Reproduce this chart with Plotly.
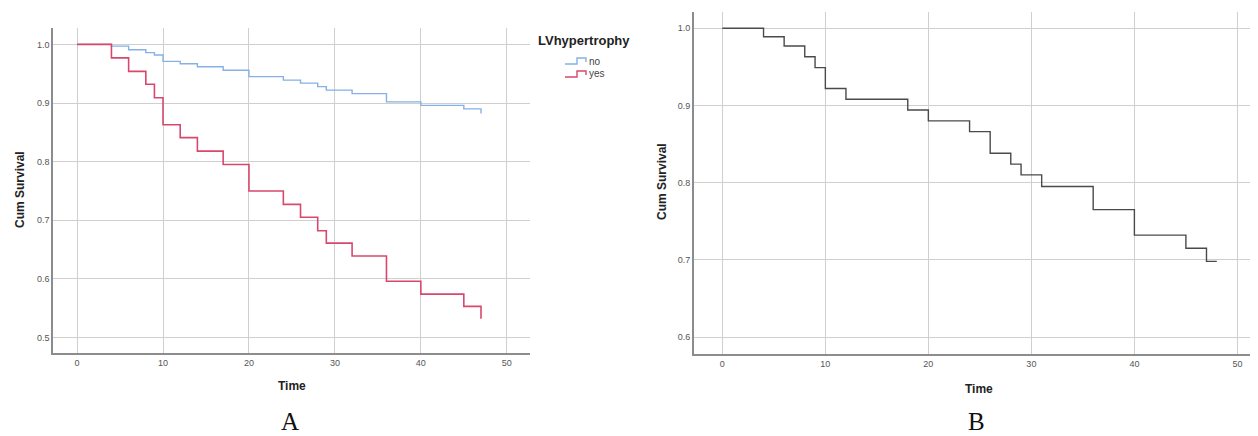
import plotly.graph_objects as go

# page has an 8px body margin; figure is sized so it fits the 1258x436 window
OFF = 8
W, H = 1258 - OFF, 436 - OFF

# Panel A data (Kaplan-Meier, LV hypertrophy)
time_no = [0, 4, 6, 8, 9, 10, 12, 14, 17, 20, 24, 26, 28, 29, 32, 36, 40, 45, 47]
surv_no = [1.0, 0.997, 0.991, 0.986, 0.982, 0.971, 0.967, 0.962, 0.956, 0.945, 0.939, 0.934,
           0.928, 0.922, 0.916, 0.902, 0.896, 0.890, 0.882]
time_yes = [0, 4, 6, 8, 9, 10, 12, 14, 17, 20, 24, 26, 28, 29, 32, 36, 40, 45, 47]
surv_yes = [1.0, 0.977, 0.954, 0.932, 0.909, 0.863, 0.841, 0.818, 0.795, 0.750, 0.727, 0.705,
            0.682, 0.661, 0.639, 0.596, 0.574, 0.553, 0.532]

# Panel B data (overall)
time_all = [0, 4, 6, 8, 9, 10, 12, 18, 20, 24, 26, 28, 29, 31, 36, 40, 45, 47, 48]
surv_all = [1.0, 0.989, 0.977, 0.963, 0.949, 0.922, 0.908, 0.894, 0.880, 0.866, 0.838, 0.824,
            0.810, 0.795, 0.765, 0.732, 0.715, 0.698, 0.698]

x_ticks = [0, 10, 20, 30, 40, 50]
yA_ticks = [0.5, 0.6, 0.7, 0.8, 0.9, 1.0]
yB_ticks = [0.6, 0.7, 0.8, 0.9, 1.0]

BLUE = "#86b0e6"
RED = "#d8486c"
DARK = "#4a4a4a"
GRID = "#cfcfcf"
AXIS = "#8c8c8c"
TICK = "#555555"

fig = go.Figure()
fig.add_trace(go.Scatter(x=time_no, y=surv_no, mode="lines", line=dict(shape="hv", color=BLUE, width=1.4),
                         xaxis="x", yaxis="y", showlegend=False))
fig.add_trace(go.Scatter(x=time_yes, y=surv_yes, mode="lines", line=dict(shape="hv", color=RED, width=1.6),
                         xaxis="x", yaxis="y", showlegend=False))
fig.add_trace(go.Scatter(x=time_all, y=surv_all, mode="lines", line=dict(shape="hv", color=DARK, width=1.4),
                         xaxis="x2", yaxis="y2", showlegend=False))

def px_x(p):
    return (p - OFF) / W

def px_y(p):
    return 1 - (p - OFF) / H

axis_common = dict(showgrid=True, gridcolor=GRID, gridwidth=1.3, zeroline=False, showline=True,
                   linecolor=AXIS, linewidth=1.5, ticks="", tickfont=dict(family="Liberation Sans", size=9, color=TICK),
                   fixedrange=True)

fig.update_layout(
    width=W, height=H, margin=dict(l=0, r=0, t=0, b=0),
    paper_bgcolor="white", plot_bgcolor="white",
    xaxis=dict(domain=[px_x(53), px_x(530)], range=[-2.8, 52.7], tickvals=x_ticks, anchor="y",
               **axis_common),
    yaxis=dict(domain=[px_y(353.3), px_y(28)], range=[0.473, 1.028], tickvals=yA_ticks,
               tickformat=".1f", anchor="x", **axis_common),
    xaxis2=dict(domain=[px_x(693.7), 1.0], range=[-2.78, 52.0], tickvals=x_ticks, anchor="y2",
                **axis_common),
    yaxis2=dict(domain=[px_y(354.3), px_y(12)], range=[0.5776, 1.021], tickvals=yB_ticks,
                tickformat=".1f", anchor="x2", **axis_common),
)

ann = []
def text(x, y, s, size, bold=False, family="Liberation Sans", color="#222", angle=0, xanchor="center"):
    ann.append(dict(x=px_x(x), y=px_y(y), xref="paper", yref="paper", text=f"<b>{s}</b>" if bold else s,
                    showarrow=False, font=dict(family=family, size=size, color=color), textangle=angle,
                    xanchor=xanchor, yanchor="middle"))

text(20, 190, "Cum Survival", 12, bold=True, angle=-90)
text(292, 386, "Time", 12, bold=True)
text(290, 421, "A", 25, family="Liberation Serif", color="#111")
text(662, 182, "Cum Survival", 12, bold=True, angle=-90)
text(979, 389, "Time", 12, bold=True)
text(976, 421, "B", 25, family="Liberation Serif", color="#111")
text(536, 40, "LVhypertrophy", 13, bold=True, xanchor="left")
text(587, 61, "no", 10, color="#444", xanchor="left")
text(587, 74, "yes", 10, color="#444", xanchor="left")

shapes = []
for yc, col in [(61, BLUE), (74, RED)]:
    pts = [(565, yc + 3), (577, yc + 3), (577, yc - 3), (586, yc - 3), (586, yc + 1)]
    path = "M " + " L ".join(f"{px_x(a)},{px_y(b)}" for a, b in pts)
    shapes.append(dict(type="path", path=path, xref="paper", yref="paper", line=dict(color=col, width=1.4)))

fig.update_layout(annotations=ann, shapes=shapes)
fig.write_html("out.html")
